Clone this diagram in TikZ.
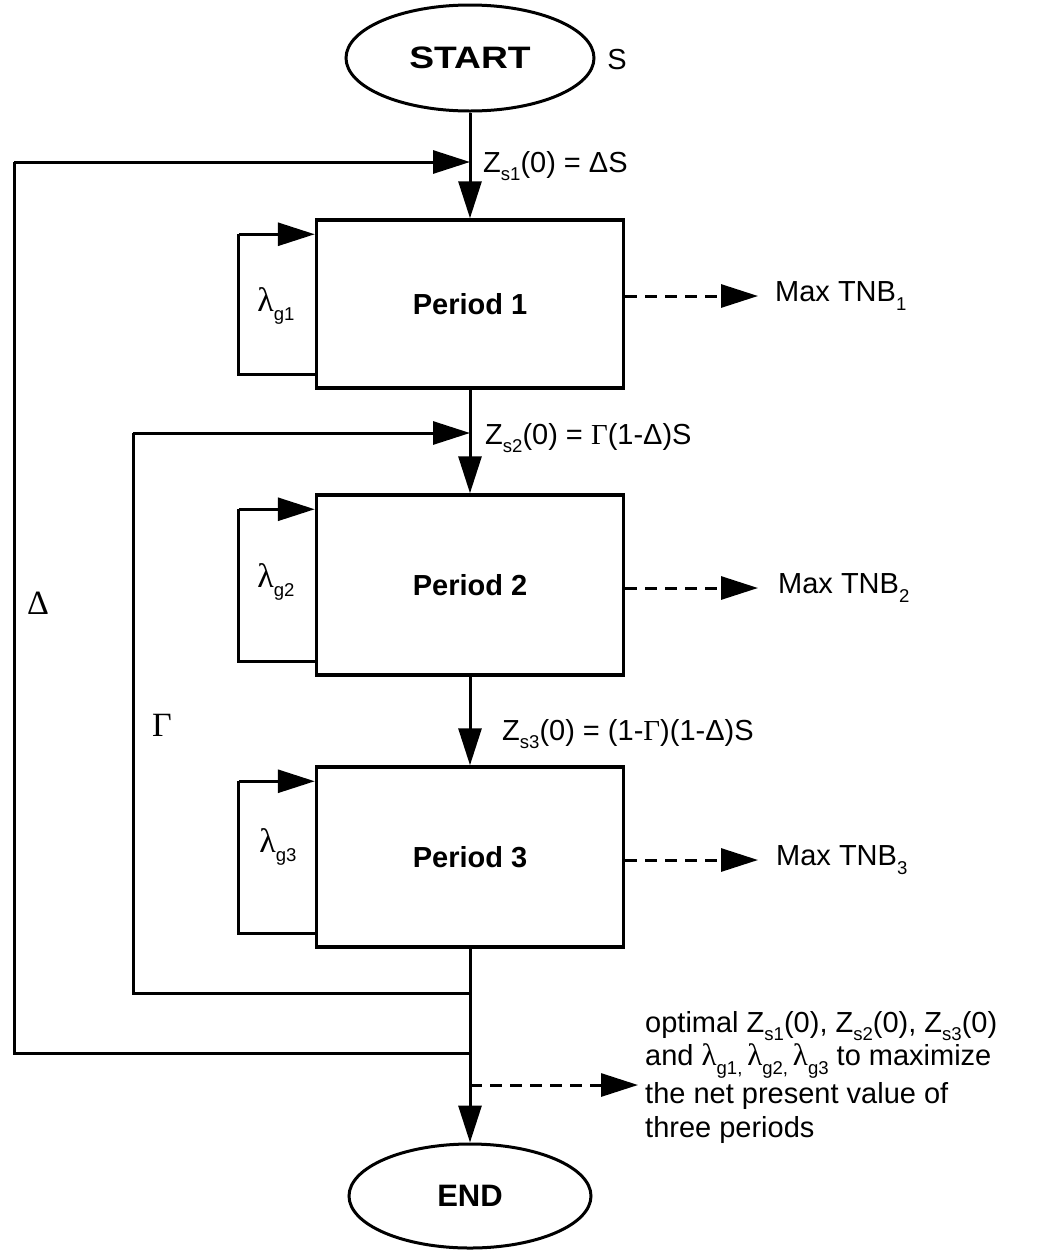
\documentclass[tikz,border=0pt]{standalone}
\usepackage{fontspec}
\setmainfont{Liberation Sans}
\newfontfamily\grk{Liberation Serif}
\usetikzlibrary{arrows.meta,shapes.geometric}
\newcommand\lowsub[1]{\raisebox{-0.3em}{\scalebox{0.64}{#1}}}
\newcommand\lam{{\grk\fontsize{34}{33}\selectfont λ}}
\newcommand\slam{{\grk\fontsize{31}{33}\selectfont λ}}
\begin{document}
\begin{tikzpicture}[x=1pt,y=-1pt,
  every node/.style={font=\fontsize{29}{33}\selectfont, inner sep=0pt},
  line/.style={line width=3pt},
  arr/.style={line width=3pt, -{Triangle[length=37pt,width=23pt]}},
  darr/.style={line width=3pt, dash pattern=on 12pt off 8pt, -{Triangle[length=37pt,width=23pt]}},
  pbox/.style={draw, line width=3.5pt, minimum width=307pt, font=\fontsize{29}{33}\selectfont\bfseries},
  term/.style={draw, ellipse, line width=3pt, font=\fontsize{31}{33}\selectfont\bfseries},
  big/.style={font=\fontsize{34}{36}\selectfont\grk},
  optline/.style={anchor=west, font=\fontsize{29}{33}\selectfont}
]
\useasboundingbox (0,0) rectangle (1043,1251);
% terminals
\node[term, minimum width=248pt, minimum height=106pt] (start) at (470,58) {\scalebox{1.2}[1]{START}};
\node (s) at (617,60) {S};
\node[term, minimum width=242pt, minimum height=104pt] (end) at (470,1196) {END};
% periods
\node[pbox, minimum height=168pt] (p1) at (470,304) {Period 1};
\node[pbox, minimum height=180pt] (p2) at (470,585) {Period 2};
\node[pbox, minimum height=180pt] (p3) at (470,857) {Period 3};
% junction coordinates
\coordinate (j1) at (470,162);
\coordinate (j2) at (470,433);
\coordinate (dl) at (14,1053);
\coordinate (dt) at (14,162);
\coordinate (gl) at (133,993);
\coordinate (gt) at (133,433);
\coordinate (jg) at (470,993);
\coordinate (jd) at (470,1053);
\coordinate (jo) at (470,1085);
\coordinate (to) at (638,1085);
% main flow
\draw[arr] (start.south) -- (p1.north);
\draw[arr] (p1.south) -- (p2.north);
\draw[arr] (p2.south) -- (p3.north);
\draw[arr] (p3.south) -- (end.north);
% Delta and Gamma loops
\draw[line, line join=miter] (jd) -- (dl) -- (dt);
\draw[arr] (dt) -- (j1);
\draw[line, line join=miter] (jg) -- (gl) -- (gt);
\draw[arr] (gt) -- (j2);
\node[big] (dlab) at (38,603) {Δ};
\node[big] (glab) at (162,725) {Γ};
% lambda loops
\foreach \p/\n in {p1/1,p2/2,p3/3}{
  \draw[line, line join=miter] ([yshift=15pt]\p.south west) -- ++(-76pt,0) coordinate (lb\n) -- ([yshift=-16pt,xshift=-76pt]\p.north west) coordinate (lt\n);
  \draw[arr] (lt\n) -- ([yshift=-16pt]\p.north west);
}
\node (l1) at (276,306) {\lam\lowsub{g1}};
\node (l2) at (276,582) {\lam\lowsub{g2}};
\node (l3) at (278,847) {\lam\lowsub{g3}};
% flow labels
\node[anchor=west] (z1) at (483,166) {Z\lowsub{s1}(0) = ΔS};
\node[anchor=west] (z2) at (485,438) {Z\lowsub{s2}(0) = {\grk Γ}(1-Δ)S};
\node[anchor=west] (z3) at (502,734) {Z\lowsub{s3}(0) = (1-{\grk Γ})(1-Δ)S};
% outputs
\coordinate (t1) at (758,296);
\coordinate (t2) at (758,588);
\coordinate (t3) at (758,860);
\draw[darr] (p1.east |- t1) -- (t1);
\draw[darr] (p2.east |- t2) -- (t2);
\draw[darr] (p3.east |- t3) -- (t3);
\node[anchor=west] (m1) at (775,296) {Max TNB\lowsub{1}};
\node[anchor=west] (m2) at (778,588) {Max TNB\lowsub{2}};
\node[anchor=west] (m3) at (776,860) {Max TNB\lowsub{3}};
\draw[darr] (jo) -- (to);
\node[optline] (o1) at (645,1026) {optimal Z\lowsub{s1}(0), Z\lowsub{s2}(0), Z\lowsub{s3}(0)};
\node[optline] (o2) at (645,1061) {and \slam\lowsub{g1,}\,\slam\lowsub{g2,}\,\slam\lowsub{g3} to maximize};
\node[optline] (o3) at (645,1096) {the net present value of};
\node[optline] (o4) at (645,1130) {three periods};
\end{tikzpicture}
\end{document}
